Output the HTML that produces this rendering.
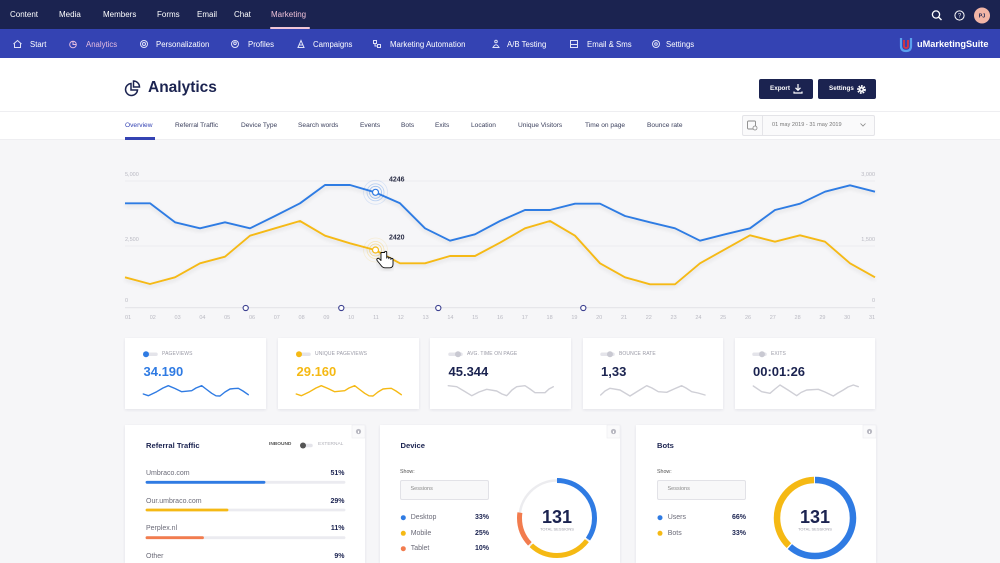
<!DOCTYPE html>
<html><head><meta charset="utf-8">
<style>
*{box-sizing:border-box;margin:0;padding:0}
html{width:1000px;height:563px;overflow:hidden;background:#f6f6f8}
body{width:1000px;height:563px;overflow:hidden;background:#f6f6f8;font-family:"Liberation Sans",sans-serif;position:relative}
.a{position:absolute;white-space:nowrap;line-height:1}
.tn{font-size:8px;color:#fff;top:11px}
.sn{font-size:7.8px;color:#fff;top:40.5px}
.tb{font-size:6.6px;color:#3a3f5c;top:122.8px}
.card{position:absolute;background:#fff;box-shadow:0 1px 3px rgba(30,35,80,0.09)}
.lbl{font-size:5px;color:#9a9aa6;letter-spacing:0.1px}
.val{font-size:13px;font-weight:bold;color:#1b2350}
.row{font-size:7px;color:#6b6b78}
.pct{font-size:7px;font-weight:bold;color:#1b2350}
.ttl{font-size:7.6px;font-weight:bold;color:#1b2350}
</style></head><body>

<!-- nav bars -->
<div class="a" style="left:0;top:0;width:1000px;height:29px;background:#1b2350"></div>
<div class="a" style="left:0;top:29px;width:1000px;height:29px;background:#3443b3"></div>
<div class="a" style="left:0;top:58px;width:1000px;height:82px;background:#fff"></div>
<div class="a" style="left:0;top:111px;width:1000px;height:1px;background:#eeeef1"></div>
<div class="a" style="left:0;top:139px;width:1000px;height:1px;background:#eeeef1"></div>

<div class="a tn" style="left:10px">Content</div>
<div class="a tn" style="left:59px">Media</div>
<div class="a tn" style="left:103px">Members</div>
<div class="a tn" style="left:157px">Forms</div>
<div class="a tn" style="left:197px">Email</div>
<div class="a tn" style="left:234px">Chat</div>
<div class="a tn" style="left:271px;color:#ecc0d6">Marketing</div>
<div class="a" style="left:270px;top:27px;width:40px;height:2px;background:#f0c6d8;border-radius:1px"></div>

<div class="a sn" style="left:30px">Start</div>
<div class="a sn" style="left:86px;color:#e6bde0">Analytics</div>
<div class="a sn" style="left:156px">Personalization</div>
<div class="a sn" style="left:248px">Profiles</div>
<div class="a sn" style="left:313px">Campaigns</div>
<div class="a sn" style="left:390px">Marketing Automation</div>
<div class="a sn" style="left:507px">A/B Testing</div>
<div class="a sn" style="left:587px">Email &amp; Sms</div>
<div class="a sn" style="left:666px">Settings</div>
<div class="a" style="left:917px;top:39.5px;font-size:9.2px;font-weight:bold;color:#fff">uMarketingSuite</div>

<svg class="a" style="left:0;top:0" width="1000" height="60" viewBox="0 0 1000 60">
 <g fill="none" stroke="#dfe2f7" stroke-width="1">
  <path d="M13.5 44 L17.5 40.5 L21.5 44 M14.5 43.5 V47.5 H20.5 V43.5"/>
  <circle cx="73" cy="44.5" r="3.3" stroke="#e6bde0"/><path d="M73 41.2 V44.5 H76.3" stroke="#e6bde0"/>
  <circle cx="144" cy="44" r="3.5"/><circle cx="144" cy="44" r="1.5"/>
  <circle cx="235" cy="44" r="3.5"/><circle cx="235" cy="43.3" r="1.3"/>
  <path d="M298 47.5 L301 40.5 L304 47.5 Z M299.5 45 H302.5"/>
  <rect x="373.5" y="40.5" width="3" height="3"/><rect x="377.5" y="44.5" width="3" height="3"/><path d="M375 43.5 V46 H377.5"/>
  <circle cx="496" cy="41.5" r="1.3"/><path d="M493 47.5 Q496 42 499 47.5 Z"/>
  <rect x="570.5" y="40.5" width="7" height="7"/><path d="M570.5 44.5 H577.5"/>
  <circle cx="656" cy="44" r="3.5"/><circle cx="656" cy="44" r="1.3"/>
  <circle cx="936" cy="14.5" r="3.6" stroke="#fff" stroke-width="1.3"/><path d="M938.7 17.2 L941.5 20" stroke="#fff" stroke-width="1.4"/>
  <circle cx="959.5" cy="15.5" r="4.6" stroke="#fff"/>
 </g>
 <text x="959.5" y="17.6" font-family="Liberation Sans" font-size="6" fill="#fff" text-anchor="middle">?</text>
 <circle cx="982" cy="15.5" r="8" fill="#f2b5a6"/>
 <text x="982" y="17.6" font-family="Liberation Sans" font-size="5.5" font-weight="bold" fill="#1b2350" text-anchor="middle">PJ</text>
 <path d="M901 38 V46 Q901 51 906 51 Q911 51 911 46 V38" fill="none" stroke="#5aa0ee" stroke-width="2.2"/>
 <path d="M904 40 V46 Q904 48 906 48 Q908 48 908 46 V40" fill="none" stroke="#d9343f" stroke-width="1.8"/>
</svg>

<!-- header -->
<svg class="a" style="left:124px;top:80px" width="18" height="18" viewBox="0 0 18 18">
 <g fill="none" stroke="#1b2350" stroke-width="1.5"><path d="M7 3.5 A6 6 0 1 0 13.5 10 H7 Z"/><path d="M9.5 1 A6 6 0 0 1 15.5 7 H9.5 Z"/></g>
</svg>
<div class="a" style="left:148px;top:80px;font-size:15.5px;font-weight:bold;color:#1b2350">Analytics</div>

<div class="a" style="left:759px;top:79px;width:54px;height:20px;background:#1b2350;border-radius:2px"></div>
<div class="a" style="left:770px;top:86.3px;font-size:6.3px;font-weight:bold;color:#fff">Export</div>
<svg class="a" style="left:792px;top:83px" width="12" height="12" viewBox="0 0 12 12"><path d="M6 1 V7 M3.5 4.8 L6 7.3 L8.5 4.8 M2 8.5 V10 H10 V8.5" fill="none" stroke="#fff" stroke-width="1.2"/></svg>
<div class="a" style="left:818px;top:79px;width:58px;height:20px;background:#1b2350;border-radius:2px"></div>
<div class="a" style="left:829px;top:86.3px;font-size:6.3px;font-weight:bold;color:#fff">Settings</div>
<svg class="a" style="left:856px;top:83.5px" width="11" height="11" viewBox="0 0 11 11"><circle cx="5.5" cy="5.5" r="3.3" fill="none" stroke="#fff" stroke-width="2.2" stroke-dasharray="1.6 0.9"/><circle cx="5.5" cy="5.5" r="2.5" fill="#fff"/><circle cx="5.5" cy="5.5" r="1" fill="#1b2350"/></svg>

<!-- tabs -->
<div class="a tb" style="left:125px;color:#3443b3">Overview</div>
<div class="a" style="left:125px;top:137px;width:30px;height:2.5px;background:#3443b3"></div>
<div class="a tb" style="left:175px">Referral Traffic</div>
<div class="a tb" style="left:241px">Device Type</div>
<div class="a tb" style="left:298px">Search words</div>
<div class="a tb" style="left:360px">Events</div>
<div class="a tb" style="left:401px">Bots</div>
<div class="a tb" style="left:435px">Exits</div>
<div class="a tb" style="left:471px">Location</div>
<div class="a tb" style="left:518px">Unique Visitors</div>
<div class="a tb" style="left:585px">Time on page</div>
<div class="a tb" style="left:647px">Bounce rate</div>

<div class="a" style="left:742px;top:114.5px;width:133px;height:21px;background:#fafafb;border:1px solid #e4e4e8;border-radius:2px"></div>
<div class="a" style="left:762px;top:115px;width:1px;height:20px;background:#e4e4e8"></div>
<svg class="a" style="left:746px;top:119px" width="12" height="12" viewBox="0 0 12 12"><rect x="1.5" y="2" width="8" height="8" rx="1" fill="none" stroke="#888" stroke-width="0.9"/><circle cx="9" cy="9" r="2" fill="#fafafb" stroke="#888" stroke-width="0.8"/></svg>
<div class="a" style="left:772px;top:122.5px;font-size:5.6px;color:#777">01 may 2019 - 31 may 2019</div>
<svg class="a" style="left:859px;top:122px" width="8" height="6" viewBox="0 0 8 6"><path d="M1.5 1.5 L4 4 L6.5 1.5" fill="none" stroke="#888" stroke-width="0.8"/></svg>

<!-- chart -->
<svg class="a" style="left:0;top:140px" width="1000" height="200" viewBox="0 140 1000 200" font-family="Liberation Sans">
 <defs><filter id="sh" x="-5%" y="-20%" width="110%" height="140%"><feGaussianBlur in="SourceAlpha" stdDeviation="2"/><feOffset dy="2"/><feComponentTransfer><feFuncA type="linear" slope="0.12"/></feComponentTransfer><feMerge><feMergeNode/><feMergeNode in="SourceGraphic"/></feMerge></filter></defs>
 <line x1="125" y1="181" x2="875" y2="181" stroke="#e9e9ee" stroke-width="0.8"/>
 <line x1="125" y1="246" x2="875" y2="246" stroke="#e9e9ee" stroke-width="0.8"/>
 <line x1="125" y1="307.7" x2="875" y2="307.7" stroke="#e3e3e9" stroke-width="1.2"/>
 <g font-size="5.5" fill="#b9b9c2">
  <text x="125" y="176">5,000</text><text x="125" y="241">2,500</text><text x="125" y="302">0</text>
  <text x="875" y="176" text-anchor="end">3,000</text><text x="875" y="241" text-anchor="end">1,500</text><text x="875" y="302" text-anchor="end">0</text>
 </g>
 <g font-size="5.5" fill="#b9b9c2" text-anchor="middle">
  <text x="128" y="319">01</text><text x="152.8" y="319">02</text><text x="177.6" y="319">03</text><text x="202.4" y="319">04</text><text x="227.2" y="319">05</text><text x="252" y="319">06</text><text x="276.8" y="319">07</text><text x="301.6" y="319">08</text><text x="326.4" y="319">09</text><text x="351.2" y="319">10</text><text x="376" y="319">11</text><text x="400.8" y="319">12</text><text x="425.6" y="319">13</text><text x="450.4" y="319">14</text><text x="475.2" y="319">15</text><text x="500" y="319">16</text><text x="524.8" y="319">17</text><text x="549.6" y="319">18</text><text x="574.4" y="319">19</text><text x="599.2" y="319">20</text><text x="624" y="319">21</text><text x="648.8" y="319">22</text><text x="673.6" y="319">23</text><text x="698.4" y="319">24</text><text x="723.2" y="319">25</text><text x="748" y="319">26</text><text x="772.8" y="319">27</text><text x="797.6" y="319">28</text><text x="822.4" y="319">29</text><text x="847.2" y="319">30</text><text x="872" y="319">31</text>
 </g>
 <g fill="none" stroke-width="1.9" stroke-linejoin="round" filter="url(#sh)">
  <polyline stroke="#f5b914" points="125,277.3 150,284 175,277.3 200,263.3 225,256.7 250,235.7 275,228.3 300,221 325,235.7 350,243.3 375,250 400,263.3 425,263.3 450,256 475,256 500,242.7 525,228.3 550,221 575,235.7 600,263.3 625,277.3 650,284.3 675,284.3 700,263.3 725,249.3 750,235.3 775,241.7 800,235.3 825,241.7 850,263.3 875,277.3"/>
  <polyline stroke="#2f7be3" points="125,203.3 150,203.3 175,222.3 200,228.3 225,222.3 250,228.3 275,216 300,203.3 325,185 350,185 375,192.3 400,203.3 425,228.3 450,240.7 475,234.3 500,221 525,210 550,210 575,203.7 600,203.7 625,216 650,222.3 675,228.3 700,240.7 725,234.3 750,228.3 775,210 800,203.7 825,191.7 850,185.3 875,191.7"/>
 </g>
 <g fill="none" stroke="#2f7be3">
  <circle cx="375.5" cy="192.3" r="12" stroke-opacity="0.15" stroke-width="0.8"/>
  <circle cx="375.5" cy="192.3" r="8.5" stroke-opacity="0.3" stroke-width="0.8"/>
  <circle cx="375.5" cy="192.3" r="6" stroke-opacity="0.45" stroke-width="0.8"/>
  <circle cx="375.5" cy="192.3" r="3" fill="#fff" stroke-width="1.2"/>
 </g>
 <g fill="none" stroke="#f5b914">
  <circle cx="375.5" cy="250" r="12" stroke-opacity="0.15" stroke-width="0.8"/>
  <circle cx="375.5" cy="250" r="8.5" stroke-opacity="0.3" stroke-width="0.8"/>
  <circle cx="375.5" cy="250" r="6" stroke-opacity="0.45" stroke-width="0.8"/>
  <circle cx="375.5" cy="250" r="3" fill="#fff" stroke-width="1.2"/>
 </g>
 <text x="389" y="181.5" font-size="7" font-weight="bold" fill="#2a2d45">4246</text>
 <text x="389" y="239.5" font-size="7" font-weight="bold" fill="#2a2d45">2420</text>
 <path d="M381 252.5 v8 l-1.8 -1.8 c-1.4 -1.2 -3.1 0.4 -2 1.9 l4 5 c1 1.4 2 2.2 4 2.2 h4.5 c2.2 0 3.3 -1.5 3.3 -3.5 v-4.8 c0 -1.5 -2.1 -1.5 -2.1 0 v-0.8 c0 -1.5 -2.1 -1.5 -2.1 0 v-0.6 c0 -1.5 -2.1 -1.5 -2.1 0 v-5.6 c0 -1.6 -2.1 -1.6 -2.1 0 z" fill="#fff" stroke="#111" stroke-width="0.9" stroke-linejoin="round" filter="url(#sh)"/>
 <g fill="#fff" stroke="#3d4190" stroke-width="1.1">
  <circle cx="245.7" cy="308" r="2.6"/><circle cx="341.3" cy="308" r="2.6"/><circle cx="438.3" cy="308" r="2.6"/><circle cx="583.3" cy="308" r="2.6"/>
 </g>
</svg>

<!-- stat cards -->
<div class="card" style="left:125px;top:338px;width:141px;height:71px"></div>
<div class="card" style="left:278px;top:338px;width:141px;height:71px"></div>
<div class="card" style="left:430px;top:338px;width:141px;height:71px"></div>
<div class="card" style="left:583px;top:338px;width:140px;height:71px"></div>
<div class="card" style="left:735px;top:338px;width:140px;height:71px"></div>

<div class="a lbl" style="left:162px;top:351.5px">PAGEVIEWS</div>
<div class="a lbl" style="left:315px;top:351.5px">UNIQUE PAGEVIEWS</div>
<div class="a lbl" style="left:467px;top:351.5px">AVG. TIME ON PAGE</div>
<div class="a lbl" style="left:619px;top:351.5px">BOUNCE RATE</div>
<div class="a lbl" style="left:771px;top:351.5px">EXITS</div>

<div class="a val" style="left:143.5px;top:365px;color:#2f7be3">34.190</div>
<div class="a val" style="left:296.5px;top:365px;color:#f5b914">29.160</div>
<div class="a val" style="left:448.5px;top:365px">45.344</div>
<div class="a val" style="left:601px;top:365px">1,33</div>
<div class="a val" style="left:753px;top:365px">00:01:26</div>

<svg class="a" style="left:0;top:340px" width="1000" height="70" viewBox="0 340 1000 70">
 <g stroke-linecap="round">
  <line x1="145" y1="354.3" x2="156" y2="354.3" stroke="#e4e4ea" stroke-width="3.5"/><circle cx="146" cy="354.3" r="3" fill="#2f7be3"/>
  <line x1="298" y1="354.3" x2="309" y2="354.3" stroke="#e4e4ea" stroke-width="3.5"/><circle cx="299" cy="354.3" r="3" fill="#f5b914"/>
  <line x1="450" y1="354.3" x2="461" y2="354.3" stroke="#e4e4ea" stroke-width="3.5"/><circle cx="458" cy="354.3" r="3" fill="#c9c9d2"/>
  <line x1="602" y1="354.3" x2="613" y2="354.3" stroke="#e4e4ea" stroke-width="3.5"/><circle cx="610" cy="354.3" r="3" fill="#c9c9d2"/>
  <line x1="754" y1="354.3" x2="765" y2="354.3" stroke="#e4e4ea" stroke-width="3.5"/><circle cx="762" cy="354.3" r="3" fill="#c9c9d2"/>
 </g>
 <g fill="none" stroke-width="1.4" stroke-linejoin="round" stroke-linecap="round">
  <polyline stroke="#2f7be3" points="143.3,394 148.3,395.7 156.7,391.7 163,388 168.3,385.7 175,388.5 181.7,391.7 191.7,390.7 196,388 201.7,385.7 206,389 211.7,393.3 216,395.8 220,396 225,392 230,389 234,388.6 238.3,388.3 243,391 248.3,394.7"/>
  <polyline stroke="#f5b914" points="296.3,394 301.3,395.7 309.7,391.7 316,388 321.3,385.7 328,388.5 334.7,391.7 344.7,390.7 349,388 354.7,385.7 359,389 364.7,393.3 369,395.8 373,396 378,392 383,389 387,388.6 391.3,388.3 396,391 401.3,394.7"/>
  <polyline stroke="#cfcfd6" points="448.3,385.7 456.7,386.7 464,391 471.7,395.7 479,392 486.7,389.3 496.7,391 502,394 506.7,395.7 512,390 516.7,386.7 525,385.7 530,389 535,392.7 545,392.7 549,389 553.3,386.7"/>
  <polyline stroke="#cfcfd6" points="600.7,395 605,391 610,388.3 620,390 625,393 630,396 638,391 646.7,385.7 652,388 658.3,391.7 666.7,392.3 674,389 681.7,385.7 686,388 691.7,391.7 698,393 705,395"/>
  <polyline stroke="#cfcfd6" points="753.3,386 761.7,391.7 770,393.3 775,389 780,385 788,390 796.7,395.7 801,392.5 806.7,390 818.3,389.3 825,392 833.3,396 838,393 843.3,390 848,387 853.3,385 858.3,386.7"/>
 </g>
</svg>

<!-- bottom panels -->
<div class="card" style="left:125px;top:425px;width:240px;height:138px"></div>
<div class="card" style="left:380px;top:425px;width:240px;height:138px"></div>
<div class="card" style="left:636px;top:425px;width:240px;height:138px"></div>

<svg class="a" style="left:0;top:420px" width="1000" height="143" viewBox="0 420 1000 143" font-family="Liberation Sans">
 <g fill="#fafafb" stroke="#ececf0" stroke-width="0.6">
  <rect x="352" y="425" width="13" height="13"/><rect x="607" y="425" width="13" height="13"/><rect x="863" y="425" width="13" height="13"/>
 </g>
 <g fill="#b9b9c2"><circle cx="358.5" cy="431.5" r="2.6"/><circle cx="613.5" cy="431.5" r="2.6"/><circle cx="869.5" cy="431.5" r="2.6"/></g>
 <g fill="#fff"><rect x="358" y="430.8" width="1" height="2.3"/><rect x="613" y="430.8" width="1" height="2.3"/><rect x="869" y="430.8" width="1" height="2.3"/></g>

 <g stroke-linecap="round" stroke-width="2.8">
  <line x1="147" y1="482.3" x2="344" y2="482.3" stroke="#ebebf0"/><line x1="147" y1="482.3" x2="264" y2="482.3" stroke="#2f7be3"/>
  <line x1="147" y1="510" x2="344" y2="510" stroke="#ebebf0"/><line x1="147" y1="510" x2="227" y2="510" stroke="#f5b914"/>
  <line x1="147" y1="537.7" x2="344" y2="537.7" stroke="#ebebf0"/><line x1="147" y1="537.7" x2="202.5" y2="537.7" stroke="#f27c4e"/>
 </g>
 <line x1="303" y1="445.5" x2="311" y2="445.5" stroke="#e4e4ea" stroke-width="3.5" stroke-linecap="round"/>
 <circle cx="303" cy="445.5" r="3" fill="#555"/>

 <circle cx="557" cy="518" r="37.5" fill="none" stroke="#ececef" stroke-width="2.5"/>
 <g fill="none" stroke-width="5" transform="rotate(-90 557 518)">
  <circle cx="557" cy="518" r="37.5" stroke="#2f7be3" stroke-dasharray="83.2 200" stroke-dashoffset="1.96"/>
  <circle cx="557" cy="518" r="37.5" stroke="#f5b914" stroke-dasharray="62.8 200" stroke-dashoffset="-83.1"/>
  <circle cx="557" cy="518" r="37.5" stroke="#f27c4e" stroke-dasharray="34 200" stroke-dashoffset="-147.9"/>
 </g>
 <text x="557" y="523" font-size="18" font-weight="bold" fill="#1b2350" text-anchor="middle">131</text>
 <text x="557" y="530.5" font-size="4" fill="#9a9aa6" text-anchor="middle">TOTAL SESSIONS</text>

 <g fill="none" stroke-width="6.5" transform="rotate(-90 815 518)">
  <circle cx="815" cy="518" r="38" stroke="#2f7be3" stroke-dasharray="146.6 300" stroke-dashoffset="0"/>
  <circle cx="815" cy="518" r="38" stroke="#f5b914" stroke-dasharray="89.5 300" stroke-dashoffset="-147.9"/>
 </g>
 <text x="815" y="523" font-size="18" font-weight="bold" fill="#1b2350" text-anchor="middle">131</text>
 <text x="815" y="530.5" font-size="4" fill="#9a9aa6" text-anchor="middle">TOTAL SESSIONS</text>

 <circle cx="403.3" cy="517.7" r="2.5" fill="#2f7be3"/>
 <circle cx="403.3" cy="533.3" r="2.5" fill="#f5b914"/>
 <circle cx="403.3" cy="548.7" r="2.5" fill="#f27c4e"/>
 <circle cx="660" cy="517.7" r="2.5" fill="#2f7be3"/>
 <circle cx="660" cy="533.3" r="2.5" fill="#f5b914"/>
 <path d="M473.5 488.5 L476 491 L478.5 488.5" fill="none" stroke="#888" stroke-width="0.8"/>
 <path d="M730.5 488.5 L733 491 L735.5 488.5" fill="none" stroke="#888" stroke-width="0.8"/>
</svg>

<div class="a ttl" style="left:146px;top:442px">Referral Traffic</div>
<div class="a" style="left:269px;top:443px;font-size:4.8px;font-weight:bold;color:#555">INBOUND</div>
<div class="a" style="left:318px;top:443px;font-size:4.8px;color:#b0b0b8">EXTERNAL</div>
<div class="a row" style="left:146px;top:469.8px">Umbraco.com</div>
<div class="a pct" style="left:300px;width:44.5px;text-align:right;top:469.8px">51%</div>
<div class="a row" style="left:146px;top:497.5px">Our.umbraco.com</div>
<div class="a pct" style="left:300px;width:44.5px;text-align:right;top:497.5px">29%</div>
<div class="a row" style="left:146px;top:524.8px">Perplex.nl</div>
<div class="a pct" style="left:300px;width:44.5px;text-align:right;top:524.8px">11%</div>
<div class="a row" style="left:146px;top:552.5px">Other</div>
<div class="a pct" style="left:300px;width:44.5px;text-align:right;top:552.5px">9%</div>

<div class="a ttl" style="left:400.5px;top:442px">Device</div>
<div class="a" style="left:400px;top:469.5px;font-size:5.3px;color:#555">Show:</div>
<div class="a" style="left:400px;top:479.5px;width:89px;height:20.5px;background:#f8f8f9;border:1px solid #e2e2e7;border-radius:2px"></div>
<div class="a" style="left:410.5px;top:487.3px;font-size:5.5px;color:#888">Sessions</div>
<div class="a row" style="left:410.7px;top:514.2px">Desktop</div>
<div class="a pct" style="left:450px;width:39px;text-align:right;top:514.2px">33%</div>
<div class="a row" style="left:410.7px;top:529.8px">Mobile</div>
<div class="a pct" style="left:450px;width:39px;text-align:right;top:529.8px">25%</div>
<div class="a row" style="left:410.7px;top:545.2px">Tablet</div>
<div class="a pct" style="left:450px;width:39px;text-align:right;top:545.2px">10%</div>

<div class="a ttl" style="left:657px;top:442px">Bots</div>
<div class="a" style="left:657px;top:469.5px;font-size:5.3px;color:#555">Show:</div>
<div class="a" style="left:657px;top:479.5px;width:89px;height:20.5px;background:#f8f8f9;border:1px solid #e2e2e7;border-radius:2px"></div>
<div class="a" style="left:667.5px;top:487.3px;font-size:5.5px;color:#888">Sessions</div>
<div class="a row" style="left:667.7px;top:514.2px">Users</div>
<div class="a pct" style="left:707px;width:39px;text-align:right;top:514.2px">66%</div>
<div class="a row" style="left:667.7px;top:529.8px">Bots</div>
<div class="a pct" style="left:707px;width:39px;text-align:right;top:529.8px">33%</div>

</body></html>
